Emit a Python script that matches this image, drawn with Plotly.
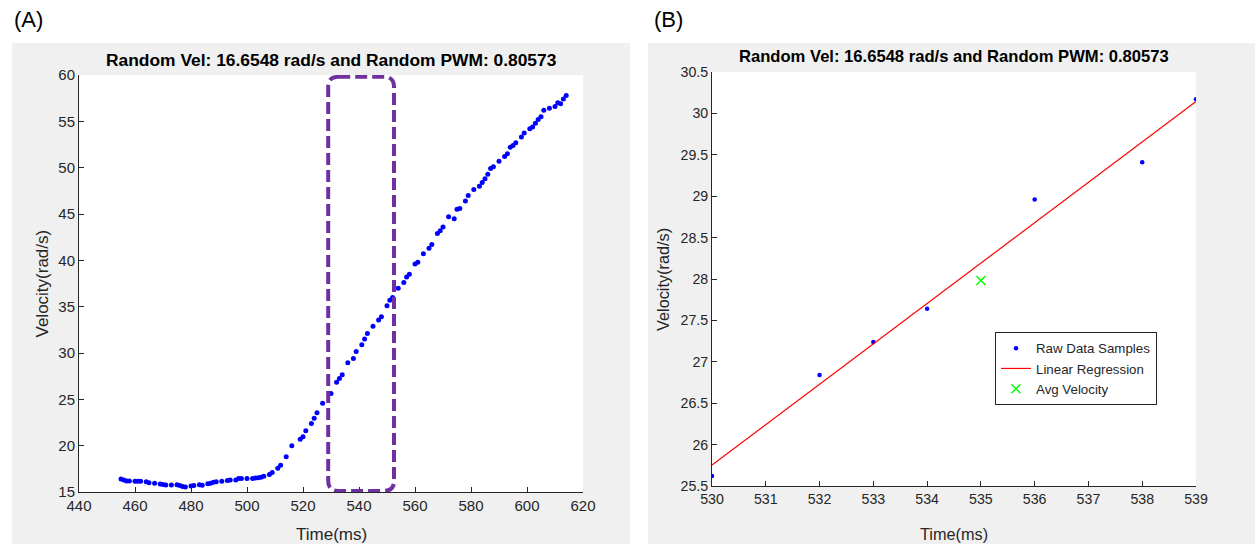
import numpy as np
import plotly.graph_objects as go

W, H = 1258, 544

# ---------------- data ----------------
title_text = "Random Vel: 16.6548 rad/s and Random PWM: 0.80573"

time_a = [455, 456, 457, 458, 460, 461, 462, 464, 465, 467, 469, 470, 471, 473, 475, 476,
          477, 478, 480, 481, 483, 484, 486, 487, 488, 489, 491, 493, 494, 496, 497, 498,
          500, 502, 503, 504, 505, 506, 508, 509, 511, 512, 514, 516, 519, 520, 521, 523,
          524, 525, 527, 530, 532, 533, 534, 536, 538, 539, 541, 542, 543, 545, 547, 548,
          550, 551, 552, 554, 556, 557, 558, 560, 561, 563, 565, 566, 568, 569, 570, 572,
          574, 575, 576, 578, 579, 581, 583, 584, 585, 586, 587, 588, 590, 592, 593, 594,
          595, 596, 598, 599, 601, 602, 603, 604, 605, 606, 608, 610, 611, 612, 613, 614]
vel_a = [16.40, 16.30, 16.20, 16.20, 16.15, 16.15, 16.15, 16.10, 16.00, 15.95, 15.85, 15.80,
         15.75, 15.75, 15.78, 15.70, 15.60, 15.55, 15.65, 15.70, 15.78, 15.72, 15.90, 15.95,
         16.05, 16.10, 16.15, 16.25, 16.30, 16.30, 16.45, 16.47, 16.45, 16.45, 16.50, 16.55,
         16.60, 16.70, 16.90, 17.10, 17.55, 17.90, 18.80, 20.00, 20.70, 20.97, 21.60, 22.40,
         22.95, 23.55, 24.57, 25.62, 26.84, 27.24, 27.64, 28.96, 29.41, 30.17, 30.90, 31.50,
         32.10, 32.90, 33.55, 33.90, 35.10, 35.70, 36.00, 37.00, 37.60, 38.20, 38.50, 39.60,
         39.80, 40.70, 41.30, 41.70, 42.90, 43.20, 43.60, 44.70, 44.50, 45.50, 45.60, 46.40,
         47.00, 47.65, 48.00, 48.40, 48.80, 49.30, 49.90, 50.10, 50.70, 51.20, 51.50, 52.20,
         52.40, 52.70, 53.30, 53.75, 54.20, 54.40, 54.80, 55.20, 55.50, 56.20, 56.40, 56.60,
         57.00, 56.90, 57.40, 57.80]

time_b = [530, 532, 533, 534, 536, 538, 539]
vel_b = [25.62, 26.84, 27.24, 27.64, 28.96, 29.41, 30.17]
avg_time = [535]

a_xticks = [440, 460, 480, 500, 520, 540, 560, 580, 600, 620]
a_yticks = [15, 20, 25, 30, 35, 40, 45, 50, 55, 60]
b_xticks = [530, 531, 532, 533, 534, 535, 536, 537, 538, 539]
b_yticks = [25.5, 26, 26.5, 27, 27.5, 28, 28.5, 29, 29.5, 30, 30.5]
b_ytick_text = ["25.5", "26", "26.5", "27", "27.5", "28", "28.5", "29", "29.5", "30", "30.5"]

# window highlighted in panel A (ms)
win_x0, win_x1 = 529.0, 552.5

# ---------------- derived ----------------
coef = np.polyfit(time_b, vel_b, 1)
fit_t = [530, 539]
fit_v = list(np.polyval(coef, fit_t))
avg_vel = [float(np.mean(vel_b))]

FONT = "Arial, Liberation Sans, Helvetica, sans-serif"
AX = "#262626"


def px_x(p):
    return p / W


def px_y(p):
    return 1 - p / H


# axes pixel boxes
A = dict(l=79, r=583, t=75, b=492)
B = dict(l=712, r=1196, t=72, b=486)

fig = go.Figure()

fig.add_trace(go.Scatter(x=time_a, y=vel_a, mode="markers",
                         marker=dict(color="#0000FF", size=5),
                         xaxis="x", yaxis="y", showlegend=False))

fig.add_trace(go.Scatter(x=time_b, y=vel_b, mode="markers", name="Raw Data Samples",
                         marker=dict(color="#0000FF", size=4.5),
                         xaxis="x2", yaxis="y2"))
fig.add_trace(go.Scatter(x=fit_t, y=fit_v, mode="lines", name="Linear Regression",
                         line=dict(color="#FF0000", width=1.2),
                         xaxis="x2", yaxis="y2"))
fig.add_trace(go.Scatter(x=avg_time, y=avg_vel, mode="markers", name="Avg Velocity",
                         marker=dict(color="#00FF00", size=9, symbol="x-thin",
                                     line=dict(color="#00FF00", width=1.5)),
                         xaxis="x2", yaxis="y2"))


def axis_style(fs):
    return dict(showgrid=False, zeroline=False, showline=True, linecolor=AX,
                linewidth=1, ticks="inside", ticklen=5, tickcolor=AX, tickwidth=1,
                tickfont=dict(family=FONT, size=fs, color=AX), mirror=False,
                automargin=False)


fig.update_layout(
    width=W, height=H,
    margin=dict(l=0, r=0, t=0, b=0, pad=0, autoexpand=False),
    paper_bgcolor="white",
    plot_bgcolor="rgba(0,0,0,0)",
    font=dict(family=FONT, color=AX),
    xaxis=dict(domain=[px_x(A["l"]), px_x(A["r"])], range=[440, 620],
               tickvals=a_xticks, anchor="y", **axis_style(15)),
    yaxis=dict(domain=[px_y(A["b"]), px_y(A["t"])], range=[15, 60],
               tickvals=a_yticks, anchor="x", **axis_style(15)),
    xaxis2=dict(domain=[px_x(B["l"]), px_x(B["r"])], range=[530, 539],
                tickvals=b_xticks, anchor="y2", **axis_style(14.2)),
    yaxis2=dict(domain=[px_y(B["b"]), px_y(B["t"])], range=[25.5, 30.5],
                tickvals=b_yticks, ticktext=b_ytick_text, anchor="x2", **axis_style(14.2)),
    legend=dict(x=px_x(995), y=px_y(332), xanchor="left", yanchor="top",
                bgcolor="white", bordercolor="#262626", borderwidth=1,
                font=dict(family=FONT, size=13.3, color="#262626"),
                tracegroupgap=0, itemwidth=30),
)

shapes = []
# gray figure panels
for (x0, x1) in [(12, 630), (648, 1255)]:
    shapes.append(dict(type="rect", xref="paper", yref="paper", layer="below",
                       x0=px_x(x0), x1=px_x(x1), y0=0, y1=px_y(43),
                       fillcolor="#F0F0F0", line=dict(width=0)))
# white axes areas
for box in (A, B):
    shapes.append(dict(type="rect", xref="paper", yref="paper", layer="below",
                       x0=px_x(box["l"]), x1=px_x(box["r"]), y0=px_y(box["b"]), y1=px_y(box["t"]),
                       fillcolor="white", line=dict(width=0)))

# rounded dashed window on panel A
y0, y1 = 15.12, 59.8
rx = 10 / 2.8   # ~10 px in ms
ry = 10 / 9.27  # ~10 px in rad/s
x0, x1 = win_x0, win_x1
path = (f"M {x0+rx},{y1} L {x1-rx},{y1} Q {x1},{y1} {x1},{y1-ry} "
        f"L {x1},{y0+ry} Q {x1},{y0} {x1-rx},{y0} L {x0+rx},{y0} "
        f"Q {x0},{y0} {x0},{y0+ry} L {x0},{y1-ry} Q {x0},{y1} {x0+rx},{y1} Z")
shapes.append(dict(type="path", xref="x", yref="y", path=path, layer="above",
                   line=dict(color="#7030A0", width=4, dash="12px,5px")))
fig.update_layout(shapes=shapes)

ann = []
panels = (
    (A, "(A)", 12, 60, 17.4, 17, 42),
    (B, "(B)", 652, 57, 16.6, 16.3, 663),
)
for box, lab, lx, ty, tfs, lfs, vx in panels:
    cx = (box["l"] + box["r"]) / 2
    ann.append(dict(text=f"<b>{title_text}</b>", x=px_x(cx), y=px_y(ty),
                    xref="paper", yref="paper", showarrow=False, xanchor="center",
                    yanchor="middle", font=dict(family=FONT, size=tfs, color="black")))
    ann.append(dict(text="Time(ms)", x=px_x(cx), y=px_y(534), xref="paper", yref="paper",
                    showarrow=False, xanchor="center", yanchor="middle",
                    font=dict(family=FONT, size=lfs, color=AX)))
    ann.append(dict(text="Velocity(rad/s)", x=px_x(vx), y=px_y((box["t"] + box["b"]) / 2),
                    xref="paper", yref="paper", showarrow=False, textangle=-90,
                    xanchor="center", yanchor="middle",
                    font=dict(family=FONT, size=lfs, color=AX)))
    ann.append(dict(text=lab, x=px_x(lx), y=px_y(20), xref="paper", yref="paper",
                    showarrow=False, xanchor="left", yanchor="middle",
                    font=dict(family=FONT, size=22, color="black")))
fig.update_layout(annotations=ann)

fig.write_html("out.html")
